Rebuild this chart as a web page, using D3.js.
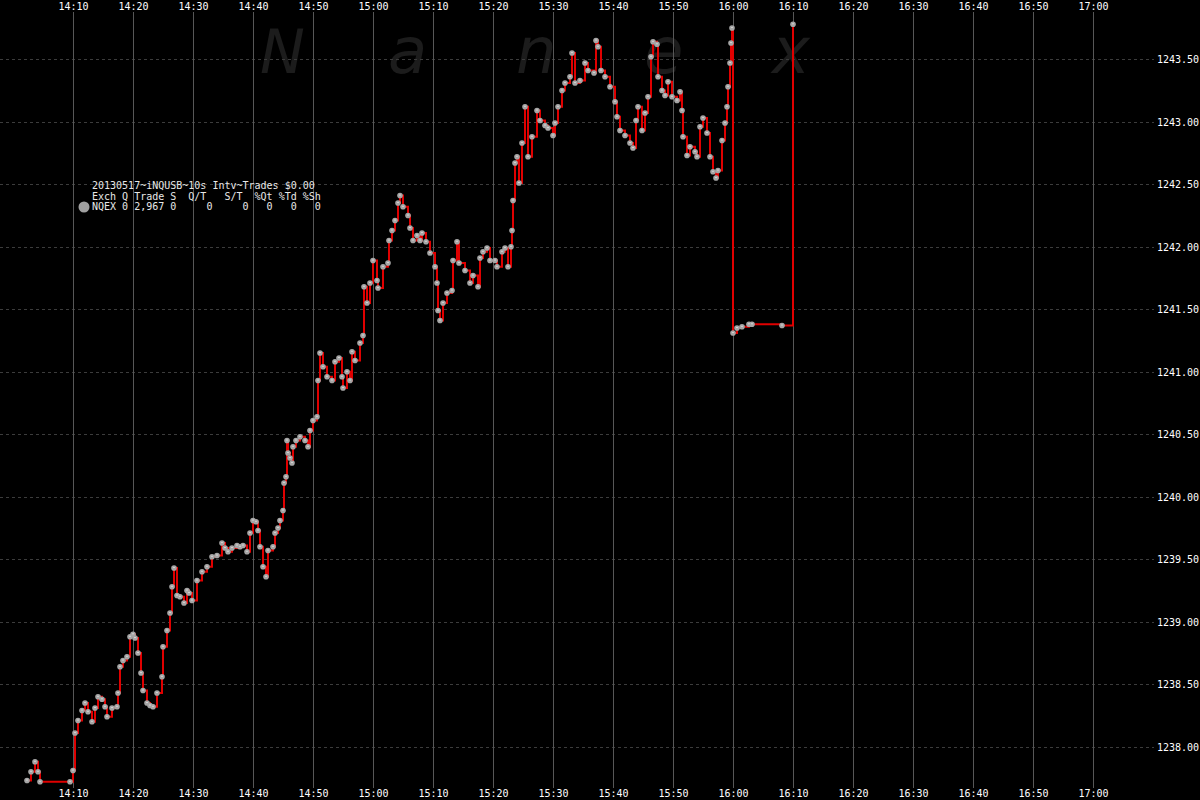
<!DOCTYPE html>
<html>
<head>
<meta charset="utf-8">
<script src="https://cdn.jsdelivr.net/npm/d3@7"></script>
<style>
  html, body { margin: 0; padding: 0; background: #000; }
  svg { display: block; }
  text { font-family: "DejaVu Sans Mono", "Liberation Mono", monospace; }
</style>
</head>
<body>
<svg id="chart" width="1200" height="800"></svg>
<script>
// ---------------- DATA ----------------
const times = [
  "14:02:20","14:03:00","14:03:40","14:04:10","14:04:30","14:09:30","14:10:00","14:10:20","14:10:50","14:11:30",
  "14:12:00","14:12:30","14:13:10","14:13:40","14:14:10","14:14:50","14:15:20","14:15:40","14:16:30","14:17:20",
  "14:17:30","14:17:50","14:18:20","14:19:00","14:19:30","14:20:00","14:20:20","14:20:50","14:21:20","14:21:40",
  "14:22:20","14:22:50","14:23:20","14:24:00","14:24:50","14:25:00","14:25:40","14:26:10","14:26:30","14:26:50",
  "14:27:20","14:27:50","14:28:30","14:29:00","14:29:20","14:29:50","14:30:40","14:31:30","14:32:20","14:33:10",
  "14:34:00","14:34:50","14:35:20","14:35:50","14:36:30","14:37:20","14:37:50","14:38:20","14:39:00","14:39:30",
  "14:40:00","14:40:30","14:40:50","14:41:10","14:41:40","14:42:10","14:42:30","14:43:20","14:43:40","14:44:10",
  "14:44:30","14:45:00","14:45:10","14:45:30","14:45:40","14:45:50","14:46:10","14:46:30","14:46:40","14:47:10",
  "14:47:50","14:48:40","14:49:10","14:49:30","14:50:00","14:50:40","14:50:50","14:51:10","14:51:40","14:52:20",
  "14:53:10","14:53:40","14:54:20","14:54:50","14:55:00","14:55:40","14:56:10","14:56:30","14:57:00","14:57:50",
  "14:58:20","14:58:30","14:59:00","14:59:30","15:00:00","15:00:40","15:00:50","15:01:40","15:02:30","15:02:40",
  "15:03:10","15:03:40","15:04:10","15:04:30","15:05:00","15:05:50","15:06:10","15:06:40","15:07:20","15:07:50",
  "15:08:10","15:08:50","15:09:30","15:10:20","15:10:40","15:10:50","15:11:10","15:11:40","15:12:20","15:13:10",
  "15:13:20","15:14:00","15:14:20","15:15:20","15:16:10","15:16:40","15:17:30","15:17:50","15:18:20","15:19:00",
  "15:19:30","15:20:20","15:20:40","15:21:30","15:22:00","15:22:30","15:23:00","15:23:10","15:23:20","15:23:40",
  "15:24:00","15:24:20","15:24:50","15:25:20","15:25:50","15:26:30","15:27:20","15:27:50","15:28:40","15:29:10",
  "15:30:00","15:30:20","15:30:50","15:31:30","15:32:00","15:32:50","15:33:10","15:33:40","15:34:30","15:35:20",
  "15:35:50","15:36:50","15:37:10","15:37:30","15:38:00","15:38:40","15:39:30","15:40:20","15:40:40","15:41:10",
  "15:42:00","15:42:50","15:43:20","15:43:50","15:44:10","15:44:50","15:45:20","15:45:50","15:46:20","15:46:40",
  "15:47:20","15:47:30","15:48:10","15:48:40","15:49:10","15:49:50","15:50:40","15:51:10","15:51:30","15:51:40",
  "15:52:20","15:52:50","15:53:40","15:54:00","15:54:30","15:55:00","15:55:40","15:56:10","15:56:40","15:57:10",
  "15:57:30","15:58:10","15:58:40","15:59:00","15:59:10","15:59:30","15:59:40","15:59:50","16:00:00","16:00:40",
  "16:01:30","16:02:40","16:03:10","16:08:10","16:10:00"
];
const prices = [
  1237.73,1237.80,1237.88,1237.80,1237.72,1237.72,1237.81,1238.11,1238.21,1238.29,
  1238.35,1238.28,1238.20,1238.31,1238.40,1238.38,1238.32,1238.24,1238.31,1238.32,
  1238.43,1238.64,1238.69,1238.72,1238.88,1238.90,1238.87,1238.75,1238.59,1238.45,
  1238.35,1238.33,1238.32,1238.43,1238.56,1238.80,1238.93,1239.07,1239.28,1239.43,
  1239.21,1239.20,1239.15,1239.25,1239.23,1239.17,1239.33,1239.40,1239.44,1239.52,
  1239.53,1239.63,1239.59,1239.56,1239.59,1239.61,1239.60,1239.61,1239.56,1239.71,
  1239.81,1239.80,1239.73,1239.60,1239.44,1239.36,1239.57,1239.60,1239.71,1239.75,
  1239.81,1239.89,1240.11,1240.16,1240.45,1240.35,1240.31,1240.27,1240.40,1240.45,
  1240.48,1240.45,1240.40,1240.53,1240.61,1240.64,1240.93,1241.15,1241.04,1240.96,
  1240.93,1241.08,1241.11,1240.96,1240.87,1241.00,1240.93,1241.16,1241.09,1241.23,
  1241.29,1241.68,1241.55,1241.71,1241.89,1241.73,1241.67,1241.84,1241.87,1242.05,
  1242.13,1242.21,1242.35,1242.41,1242.32,1242.25,1242.15,1242.05,1242.09,1242.05,
  1242.11,1242.04,1241.95,1241.84,1241.71,1241.49,1241.41,1241.55,1241.63,1241.65,
  1241.89,1242.04,1241.87,1241.81,1241.71,1241.77,1241.68,1241.91,1241.96,1241.99,
  1241.89,1241.89,1241.84,1241.96,1241.99,1241.84,1242.00,1242.13,1242.37,1242.67,
  1242.72,1242.51,1242.83,1243.12,1242.72,1242.88,1243.09,1243.01,1242.97,1242.95,
  1242.89,1242.99,1243.12,1243.25,1243.31,1243.36,1243.55,1243.31,1243.33,1243.47,
  1243.41,1243.39,1243.65,1243.60,1243.41,1243.36,1243.28,1243.16,1243.04,1242.93,
  1242.89,1242.83,1242.79,1243.01,1243.12,1242.93,1243.07,1243.20,1243.52,1243.64,
  1243.62,1243.36,1243.25,1243.21,1243.32,1243.20,1243.17,1243.24,1243.09,1242.88,
  1242.73,1242.80,1242.76,1242.72,1242.96,1243.03,1242.91,1242.72,1242.60,1242.55,
  1242.61,1242.85,1242.99,1243.12,1243.28,1243.47,1243.63,1243.75,1241.31,1241.35,
  1241.36,1241.38,1241.38,1241.37,1243.78
];
const timeDomain = ["14:00:00", "17:00:00"];
const xTickLabels = ["14:10","14:20","14:30","14:40","14:50","15:00","15:10","15:20","15:30",
                     "15:40","15:50","16:00","16:10","16:20","16:30","16:40","16:50","17:00"];
const yTickValues = [1238.00,1238.50,1239.00,1239.50,1240.00,1240.50,1241.00,1241.50,1242.00,1242.50,1243.00,1243.50];
const legendTitle = "20130517~iNQUSB~10s Intv~Trades $0.00";
const legendHeader = "Exch Q Trade S  Q/T   S/T  %Qt %Td %Sh";
const legendRow = "NQEX 0 2,967 0     0     0   0   0   0";
const watermarkLetters = ["N", "a", "n", "e", "x"];

// ---------------- CHART ----------------
const W = 1200, H = 800;
const parseT = d3.timeParse("%H:%M:%S");
const parseHM = d3.timeParse("%H:%M");
const data = times.map((t, i) => ({ t: parseT(t), v: prices[i] }));

const x = d3.scaleTime().domain(timeDomain.map(parseT)).range([13, 1093]);
const y = d3.scaleLinear().domain([1238.0, 1243.5]).range([746.8, 59.3]);

const svg = d3.select("#chart");
svg.append("rect").attr("width", W).attr("height", H).attr("fill", "#000");

// watermark
svg.append("g").selectAll("text").data(watermarkLetters).join("text")
  .attr("x", (d, i) => 260 + i * 128)
  .attr("y", 73)
  .attr("fill", "#1c1c1c")
  .style("font-family", "'DejaVu Sans', 'Liberation Sans', sans-serif")
  .style("font-style", "italic")
  .style("font-size", d => (d === d.toUpperCase() ? "60px" : "64px"))
  .text(d => d);

// horizontal dashed grid
svg.append("g").selectAll("line").data(yTickValues).join("line")
  .attr("x1", 0).attr("x2", 1154)
  .attr("y1", d => Math.round(y(d)) + 0.5).attr("y2", d => Math.round(y(d)) + 0.5)
  .attr("stroke", "#3c3c3c").attr("stroke-dasharray", "3,3");

// vertical grid
const xTicks = xTickLabels.map(parseHM);
svg.append("g").selectAll("line").data(xTicks).join("line")
  .attr("x1", d => Math.round(x(d)) + 0.5).attr("x2", d => Math.round(x(d)) + 0.5)
  .attr("y1", 12).attr("y2", 788)
  .attr("stroke", "#575757");

// axes
const fmt = d3.timeFormat("%H:%M");
const topAxis = svg.append("g").attr("transform", "translate(0,9.5)")
  .call(d3.axisTop(x).tickValues(xTicks).tickFormat(fmt).tickSize(0).tickPadding(0));
const botAxis = svg.append("g").attr("transform", "translate(0,790)")
  .call(d3.axisBottom(x).tickValues(xTicks).tickFormat(fmt).tickSize(0).tickPadding(0));
const rightAxis = svg.append("g").attr("transform", "translate(1157,0)")
  .call(d3.axisRight(y).tickValues(yTickValues).tickFormat(d3.format(".2f")).tickSize(0).tickPadding(0));
[topAxis, botAxis, rightAxis].forEach(g => {
  g.select(".domain").remove();
  g.selectAll("text").attr("fill", "#ffffff")
    .style("font-family", "'DejaVu Sans Mono', monospace").style("font-size", "10px");
});

// price line (step)
const line = d3.line().x(d => x(d.t)).y(d => y(d.v)).curve(d3.curveStepAfter);
svg.append("path").datum(data)
  .attr("d", line).attr("fill", "none")
  .attr("stroke", "#e00000").attr("stroke-width", 2);

// markers
const mk = svg.append("g");
mk.selectAll("circle").data(data).join("circle")
  .attr("cx", d => x(d.t)).attr("cy", d => y(d.v)).attr("r", 2.8)
  .attr("fill", "#a6a6a6");
mk.selectAll("rect").data(data).join("rect")
  .attr("x", d => x(d.t) - 0.5).attr("y", d => y(d.v) - 1).attr("width", 1).attr("height", 1)
  .attr("fill", "#ffffff");

// legend
const lg = svg.append("g").attr("fill", "#e8e8e8")
  .style("font-family", "'DejaVu Sans Mono', monospace").style("font-size", "10px")
  .style("white-space", "pre");
[legendTitle, legendHeader, legendRow].forEach((s, i) => {
  lg.append("text").attr("x", 92).attr("y", 189 + i * 10.7).attr("xml:space", "preserve").text(s);
});
svg.append("circle").attr("cx", 84).attr("cy", 207).attr("r", 5.5).attr("fill", "#a0a0a0");
</script>
</body>
</html>
